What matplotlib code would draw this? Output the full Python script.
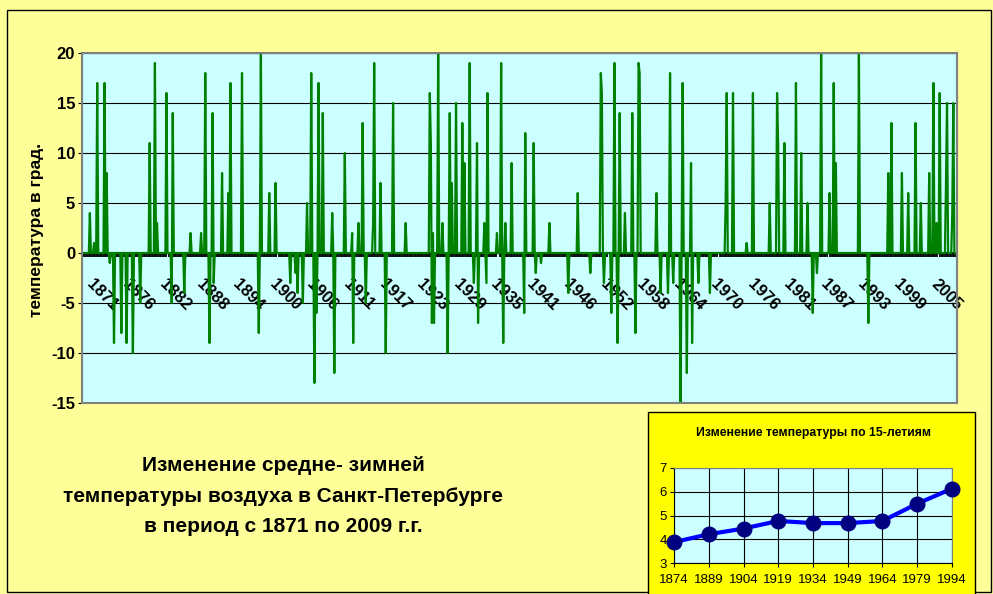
import numpy as np
import matplotlib
matplotlib.use('Agg')
import matplotlib.pyplot as plt
from matplotlib.patches import Rectangle
from matplotlib.ticker import MultipleLocator, FixedLocator

plt.rcParams['font.family'] = ['Liberation Sans', 'DejaVu Sans']
plt.rcParams['axes.unicode_minus'] = False

# main series: 1871-2009, 6 rows per year, most rows are 0
n_rows = 834
label_step = 35
spike_idx = [7, 11, 14, 21, 23, 26, 30, 37, 42, 48, 55, 64, 69, 71, 80, 85, 86, 97,
             103, 113, 117, 121, 124, 125, 133, 139, 141, 152, 168, 170, 178, 184,
             198, 203, 205, 210, 214, 218, 221, 223, 225, 229, 238, 240, 250, 257,
             258, 263, 267, 270, 277, 278, 284, 289, 296, 308, 331, 332, 333, 334,
             335, 339, 343, 348, 350, 352, 356, 362, 364, 369, 373, 376, 377, 383,
             385, 386, 395, 399, 401, 403, 409, 421, 422, 430, 432, 437, 445, 463,
             472, 484, 494, 495, 497, 504, 507, 510, 512, 517, 524, 527, 530, 531,
             547, 551, 558, 560, 563, 570, 572, 576, 580, 581, 587, 598, 613, 614,
             620, 633, 639, 655, 662, 663, 669, 680, 685, 691, 696, 700, 704, 712,
             716, 718, 740, 749, 768, 771, 781, 787, 794, 799, 807, 811, 814, 817,
             823, 824, 829, 830]
spike_val = [4, 1, 17, 17, 8, -1, -9, -8, -9, -10, -5, 11, 19, 3, 16, -5, 14, -4,
             2, 2, 18, -9, 14, -3, 8, 6, 17, 18, -8, 20, 6, 7,
             -3, -2, -4, -5, 5, 18, -13, -6, 17, 14, 4, -12, 10, 2,
             -9, 3, 13, -5, 3, 19, 7, -10, 15, 3, 16, 11, -7, 2,
             -7, 20, 3, -10, 14, 7, 15, 13, 9, 19, -3, 11, -7, 3,
             -3, 16, 2, 19, -9, 3, 9, -6, 12, 11, -2, -1, 3, -4,
             6, -2, 18, 16, -3, -6, 19, -9, 14, 4, 14, -8, 19, 18,
             6, -4, -4, 18, -3, -15, 17, -12, 9, -9, -3, -4, 5, 16,
             16, 1, 16, 5, 16, 11, 11, 17, 10, 5, -6, -2, 20, 6,
             17, 9, 20, -7, 8, 13, 8, 6, 13, 5, 8, 17, 3, 16,
             7, 15, 4, 15]
year_labels = ['1871', '1876', '1882', '1888', '1894', '1900', '1906', '1911',
               '1917', '1923', '1929', '1935', '1941', '1946', '1952', '1958',
               '1964', '1970', '1976', '1981', '1987', '1993', '1999', '2005']

# 15-year means (inset)
period_labels = ['1874', '1889', '1904', '1919', '1934', '1949', '1964', '1979', '1994']
period_means = [3.88, 4.21, 4.45, 4.77, 4.68, 4.68, 4.77, 5.5, 6.13]

title_lines = ['Изменение средне- зимней',
               'температуры воздуха в Санкт-Петербурге',
               'в период с 1871 по 2009 г.г.']

temps = np.zeros(n_rows)
temps[spike_idx] = spike_val

W, H = 993, 594
fig = plt.figure(figsize=(W / 100, H / 100), dpi=100, facecolor='#FFFF99')

def fx(px): return px / W
def fy(py): return 1 - py / H

# outer frame
fig.patches.append(Rectangle((fx(7), fy(592)), fx(984), 582 / H, transform=fig.transFigure,
                             fill=False, edgecolor='black', lw=1, zorder=0))

# ---- main chart
ax = fig.add_axes([fx(82), fy(403), fx(875), 350 / H])
ax.set_facecolor('#CCFFFF')
ax.plot(np.arange(n_rows), temps, color='#008000', lw=1.6, zorder=3)
ax.set_xlim(-0.5, n_rows - 0.5)
ax.set_ylim(-15, 20)
ax.set_yticks(range(-15, 21, 5))
ax.yaxis.grid(True, color='black', lw=0.8)
ax.set_axisbelow(True)
for s in ['top', 'right', 'left']:
    ax.spines[s].set_color('#808080')
ax.spines['bottom'].set_position(('data', 0))
ax.spines['bottom'].set_color('black')
ax.spines['bottom'].set_linewidth(1.2)
ax.add_patch(Rectangle((0, 0), 1, 1, transform=ax.transAxes, fill=False,
                       edgecolor='#808080', lw=1.5, zorder=4, clip_on=False))

ax.xaxis.set_major_locator(FixedLocator([label_step * k + 11 for k in range(len(year_labels))]))
ax.set_xticklabels(year_labels, fontsize=12, fontweight='bold')
ax.xaxis.set_minor_locator(MultipleLocator(1.5))
ax.tick_params(axis='x', which='major', length=0, pad=17)
ax.tick_params(axis='x', which='minor', length=3.2, width=1.3, color='black', direction='out')
for lbl in ax.get_xticklabels():
    lbl.set(rotation=-45, ha='left', va='top', rotation_mode='anchor')
ax.tick_params(axis='y', length=3, color='black', labelsize=12, pad=2)
for lbl in ax.get_yticklabels():
    lbl.set_fontweight('bold')

fig.text(fx(37), fy(230), 'температура в град.', rotation=90, ha='center', va='center',
         fontsize=12.5, fontweight='bold')

for i, line in enumerate(title_lines):
    fig.text(fx(283), fy(471 + 30.5 * i), line, ha='center', va='baseline',
             fontsize=15, fontweight='bold')

# ---- inset with 15-year means
fig.patches.append(Rectangle((fx(648), fy(600)), fx(327), 188 / H, transform=fig.transFigure,
                             facecolor='#FFFF00', edgecolor='black', lw=1, zorder=1))
fig.text(fx(813), fy(433), 'Изменение температуры по 15-летиям', ha='center', va='center',
         fontsize=8.8, fontweight='bold', zorder=3)

ax2 = fig.add_axes([fx(674), fy(563), fx(278), 95 / H])
ax2.set_zorder(2)
ax2.set_facecolor('#CCFFFF')
xs = np.arange(len(period_labels))
ax2.plot(xs, period_means, color='#0000FF', lw=3, marker='o', ms=10.5,
         mfc='#000080', mec='#000080', clip_on=False, zorder=3)
ax2.set_xlim(0, len(period_labels) - 1)
ax2.set_ylim(3, 7)
ax2.set_xticks(xs)
ax2.set_xticklabels(period_labels)
ax2.set_yticks(range(3, 8))
ax2.grid(True, color='black', lw=0.8)
ax2.set_axisbelow(True)
for s in ['top', 'right']:
    ax2.spines[s].set_color('#808080')
ax2.tick_params(axis='x', length=3, pad=5, labelsize=9.5)
ax2.tick_params(axis='y', length=3, pad=2, labelsize=9.5)
for lbl in ax2.get_xticklabels() + ax2.get_yticklabels():
    lbl.set_family(['Liberation Sans Narrow', 'Liberation Sans'])
    lbl.set_stretch('condensed')

fig.savefig('out.png', dpi=100, facecolor=fig.get_facecolor())
